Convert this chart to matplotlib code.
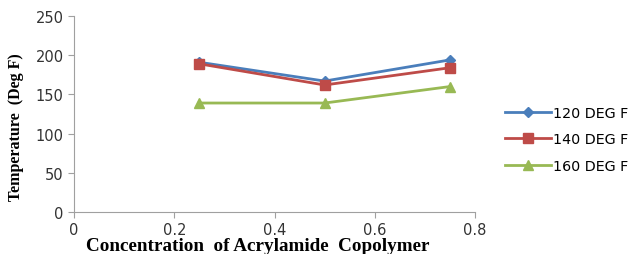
import matplotlib
matplotlib.use('Agg')
import matplotlib.pyplot as plt

# Data
concentration = [0.25, 0.5, 0.75]
temp_120 = [191, 167, 194]
temp_140 = [189, 162, 184]
temp_160 = [139, 139, 160]
series_labels = ['120 DEG F', '140 DEG F', '160 DEG F']
x_ticks = [0, 0.2, 0.4, 0.6, 0.8]
y_ticks = [0, 50, 100, 150, 200, 250]

fig = plt.figure(figsize=(6.35, 2.55), dpi=100)
ax = fig.add_axes([74 / 635, 1 - 213 / 255, (475 - 74) / 635, (213 - 17) / 255])

ax.plot(concentration, temp_120, color='#4a7ebb', marker='D', markersize=5, linewidth=2, label=series_labels[0])
ax.plot(concentration, temp_140, color='#be4b48', marker='s', markersize=7, linewidth=2, label=series_labels[1])
ax.plot(concentration, temp_160, color='#98b954', marker='^', markersize=7, linewidth=2, label=series_labels[2])

ax.set_xlim(0, 0.8)
ax.set_ylim(0, 250)
ax.set_xticks(x_ticks)
ax.set_xticklabels(['0', '0.2', '0.4', '0.6', '0.8'])
ax.set_yticks(y_ticks)

for side in ['top', 'right']:
    ax.spines[side].set_visible(False)
for side in ['left', 'bottom']:
    ax.spines[side].set_color('#a0a0a0')
ax.tick_params(colors='#a0a0a0', labelcolor='#333333', labelsize=10.5, length=4)

ax.set_xlabel('Concentration  of Acrylamide  Copolymer', family='Liberation Serif',
              fontweight='bold', fontsize=13.8)
ax.xaxis.set_label_coords(0.459, -0.13)
ax.set_ylabel('Temperature  (Deg F)', family='Liberation Serif',
              fontweight='bold', fontsize=11.5)
ax.yaxis.set_label_coords(-0.125, 0.436)

ax.legend(loc='center left', bbox_to_anchor=(1.06, 0.37), frameon=False,
          fontsize=10.3, handlelength=3.2, labelspacing=0.9, handletextpad=0.2,
          borderaxespad=0)

fig.savefig('out.png', dpi=100)
